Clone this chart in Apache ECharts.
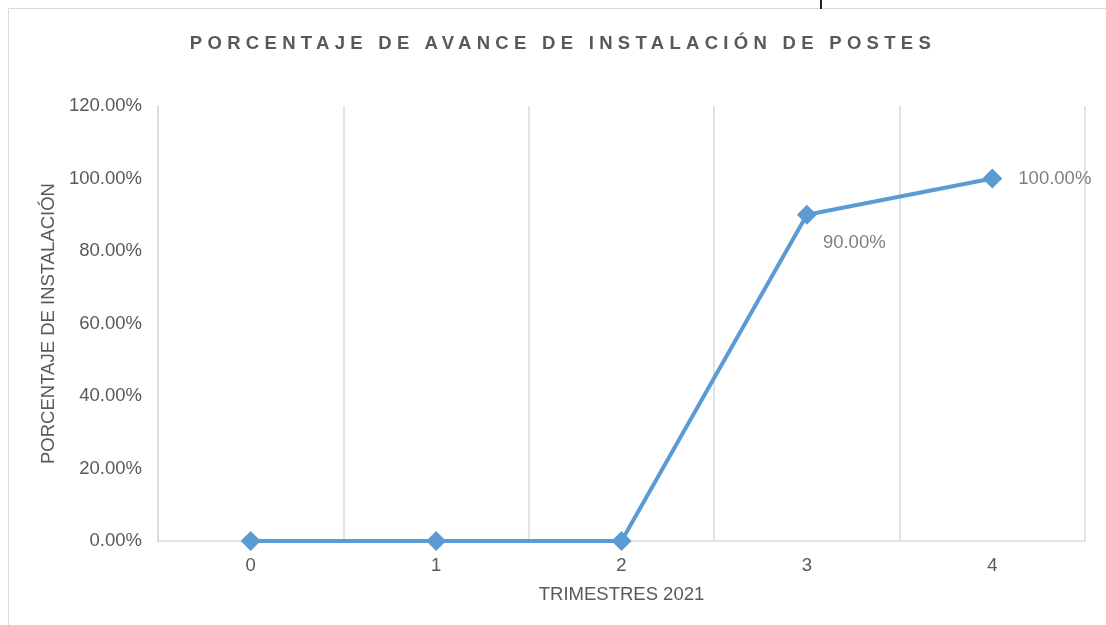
<!DOCTYPE html>
<html>
<head>
    <meta charset="utf-8">
    <script src="https://cdn.jsdelivr.net/npm/echarts@6/dist/echarts.min.js"></script>
    <style>
        body { margin: 0; background: #fff; }
        #wrap { position: relative; width: 1106px; height: 625px; }
        #myChart { width: 1106px; height: 625px; }
        #title {
            position: absolute; left: 0; top: 32px; width: 1126px;
            text-align: center; font: bold 18.5px "Liberation Sans", Arial, sans-serif;
            letter-spacing: 5.3px; color: #595959;
        }
    </style>
</head>
<body>
<div id="wrap">
    <div id="myChart"></div>
    <div id="title">PORCENTAJE DE AVANCE DE INSTALACIÓN DE POSTES</div>
</div>

<script type="text/javascript">
    var chart = echarts.init(document.getElementById('myChart'));

    // 数据
    var trimestres = ['0', '1', '2', '3', '4'];
    var avance = [0, 0, 0, 0.9, 1.0];
    var yTicks = [0, 0.2, 0.4, 0.6, 0.8, 1.0, 1.2];

    var gris = '#d9d9d9';
    var texto = '#595959';
    var azul = '#5b9bd5';
    var fs = 18.5;

    // 只给后两个点加标签
    var labelOffsets = [null, null, null, [0, 28], [10, 0]];
    var seriesData = avance.map(function (v, i) {
        var item = {value: v};
        if (labelOffsets[i]) {
            item.label = {show: true, offset: labelOffsets[i]};
        }
        return item;
    });

    var option = {
        animation: false,
        textStyle: {fontFamily: '"Liberation Sans", Arial, sans-serif'},
        graphic: [
            {  // 外框
                type: 'polyline',
                shape: {points: [[8.5, 625], [8.5, 8.5], [1106, 8.5]]},
                style: {stroke: gris, lineWidth: 1, fill: null},
                silent: true
            },
            {
                type: 'rect',
                shape: {x: 820, y: 0, width: 2, height: 9},
                style: {fill: '#222'},
                silent: true
            }
        ],
        grid: {
            left: 158,
            right: 21,
            top: 106,
            bottom: 84
        },
        xAxis: {
            type: 'category',
            data: trimestres,
            boundaryGap: true,
            name: 'TRIMESTRES 2021',
            nameLocation: 'middle',
            nameGap: 44,
            nameTextStyle: {color: texto, fontSize: fs},
            axisTick: {show: false},
            axisLine: {lineStyle: {color: gris, width: 1.5}},
            axisLabel: {color: texto, fontSize: fs, margin: 15},
            splitLine: {show: true, lineStyle: {color: gris, width: 1.5}}
        },
        yAxis: {
            type: 'value',
            min: yTicks[0],
            max: yTicks[yTicks.length - 1],
            interval: 0.2,
            name: 'PORCENTAJE DE INSTALACIÓN',
            nameLocation: 'middle',
            nameGap: 99,
            nameTextStyle: {color: texto, fontSize: fs},
            axisLine: {show: true, lineStyle: {color: gris, width: 1.5}},
            axisTick: {show: false},
            splitLine: {show: false},
            axisLabel: {
                color: texto,
                fontSize: fs,
                margin: 16,
                padding: [3, 0, 0, 0],
                formatter: function (v) {
                    return (v * 100).toFixed(2) + '%';
                }
            }
        },
        series: [{
            type: 'line',
            data: seriesData,
            symbol: 'diamond',
            symbolSize: 20,
            lineStyle: {color: azul, width: 4},
            itemStyle: {color: azul},
            label: {
                show: false,
                position: 'right',
                distance: 6,
                color: '#7f7f7f',
                fontSize: fs,
                formatter: function (p) {
                    return (p.value * 100).toFixed(2) + '%';
                }
            }
        }]
    };

    chart.setOption(option, true);
</script>
</body>
</html>
